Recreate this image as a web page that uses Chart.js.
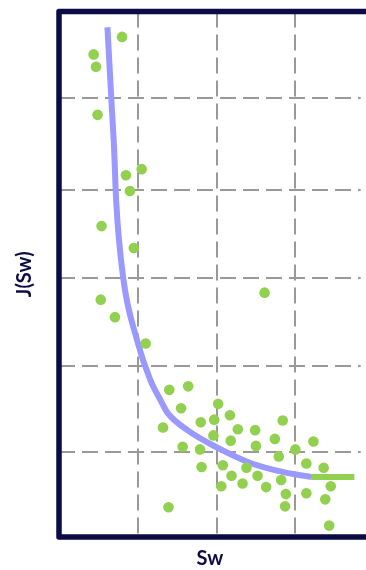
<!DOCTYPE html>
<html>
<head>
<meta charset="utf-8">
<script src="https://cdn.jsdelivr.net/npm/chart.js@4"></script>
<style>
  body { margin: 0; background: #fff; }
  canvas { display: block; }
</style>
</head>
<body>
<canvas id="chart" width="366" height="570"></canvas>
<script>
// measured samples (Sw, J)
const sampleSw = [0.80, 0.44, 0.47, 0.49, 1.05, 0.85, 0.90, 0.54, 0.95, 0.53, 0.71, 1.10, 2.61,
  1.40, 1.64, 1.55, 1.32, 2.02, 1.80, 1.97, 2.17, 1.96, 2.27, 2.18, 2.49, 2.84, 2.50, 2.74,
  1.57, 1.79, 3.00, 3.23, 2.79, 1.81, 2.08, 2.38, 3.14, 3.36, 2.19, 2.52, 2.82, 3.45, 2.06,
  2.33, 2.63, 2.88, 3.14, 3.38, 2.87, 1.39, 3.43]
const sampleJ = [5.71, 5.51, 5.37, 4.82, 4.20, 4.13, 3.95, 3.55, 3.30, 2.71, 2.51, 2.21, 2.79,
  1.68, 1.72, 1.47, 1.25, 1.52, 1.31, 1.34, 1.39, 1.16, 1.23, 1.10, 1.22, 1.33, 1.04, 1.12,
  1.03, 1.00, 1.00, 1.09, 0.92, 0.80, 0.82, 0.79, 0.84, 0.79, 0.70, 0.70, 0.65, 0.58, 0.58,
  0.61, 0.57, 0.49, 0.50, 0.43, 0.35, 0.34, 0.13]

// fitted curve
const curveSw = [0.615, 0.665, 0.70, 0.725, 0.815, 0.99, 1.16, 1.29, 1.376, 1.63, 2.01, 2.43, 2.85, 3.20]
const curveJ = [5.82, 4.99, 4.42, 3.85, 2.96, 2.25, 1.79, 1.56, 1.42, 1.22, 1.02, 0.845, 0.74, 0.685]

// flat tail of the curve
const tailSw = [3.20, 3.75]
const tailJ = [0.685, 0.685]

const xGrid = [1, 2, 3]
const yGrid = [0.967, 1.953, 2.957, 3.962, 5.009]

const NAVY = '#0b0b45'
const GREEN = '#92d050'
const BLUE = '#9999ff'

const toPoints = (xs, ys) => xs.map((x, i) => ({x: x, y: ys[i]}))

const framePlugin = {
  id: 'frame',
  afterDatasetsDraw(chart) {
    const {ctx, chartArea} = chart
    ctx.save()
    ctx.strokeStyle = NAVY
    ctx.lineWidth = 5.5
    ctx.lineJoin = 'round'
    ctx.beginPath()
    ctx.moveTo(chart.width, chartArea.top)
    ctx.lineTo(chartArea.left, chartArea.top)
    ctx.lineTo(chartArea.left, chartArea.bottom)
    ctx.lineTo(chart.width, chartArea.bottom)
    ctx.stroke()
    ctx.restore()
  }
}

const titleFont = {family: 'Lato', weight: 'bold', size: 20, lineHeight: 1}

new Chart(document.getElementById('chart'), {
  type: 'scatter',
  data: {
    datasets: [
      {
        type: 'scatter',
        data: toPoints(sampleSw, sampleJ),
        backgroundColor: GREEN,
        borderWidth: 0,
        pointRadius: 5.3,
        order: 0
      },
      {
        type: 'line',
        data: toPoints(curveSw, curveJ),
        borderColor: BLUE,
        borderWidth: 6,
        pointRadius: 0,
        cubicInterpolationMode: 'monotone',
        fill: false,
        order: 1
      },
      {
        type: 'line',
        data: toPoints(tailSw, tailJ),
        borderColor: GREEN,
        borderWidth: 6,
        pointRadius: 0,
        fill: false,
        order: 1
      }
    ]
  },
  options: {
    responsive: false,
    devicePixelRatio: 1,
    animation: false,
    layout: {padding: {top: 11.5, right: 0, left: 0, bottom: 0}},
    plugins: {legend: {display: false}, tooltip: {enabled: false}},
    scales: {
      x: {
        type: 'linear',
        min: 0,
        max: 3.83,
        afterBuildTicks: s => { s.ticks = xGrid.map(v => ({value: v})) },
        afterFit: s => { s.height = 33 },
        ticks: {display: false},
        grid: {color: '#999', lineWidth: 2, drawTicks: false},
        border: {display: false, dash: [16, 7]},
        title: {display: true, text: 'Sw', color: NAVY, font: titleFont, padding: {top: 0, bottom: 1}}
      },
      y: {
        type: 'linear',
        min: 0,
        max: 6,
        afterBuildTicks: s => { s.ticks = yGrid.map(v => ({value: v})) },
        afterFit: s => { s.width = 59 },
        ticks: {display: false},
        grid: {color: '#999', lineWidth: 2, drawTicks: false},
        border: {display: false, dash: [16, 7]},
        title: {display: true, text: 'J(Sw)', color: NAVY, font: titleFont, padding: {top: 15, bottom: 0}}
      }
    }
  },
  plugins: [framePlugin]
})
</script>
</body>
</html>
